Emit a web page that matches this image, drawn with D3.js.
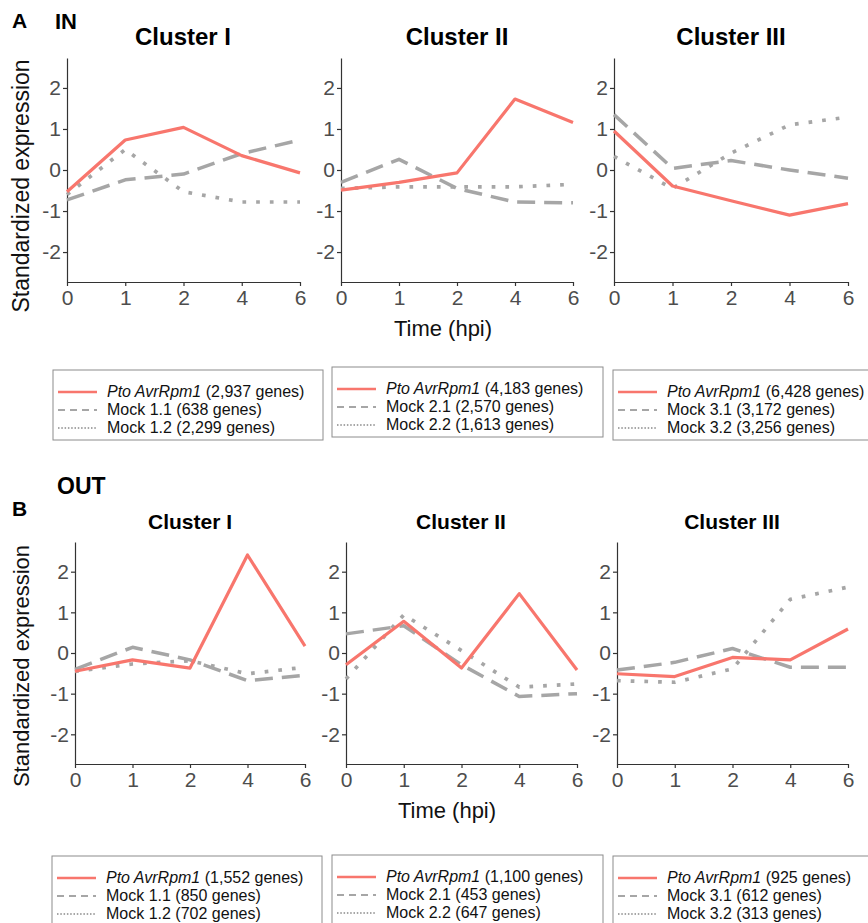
<!DOCTYPE html>
<html lang="en">
<head>
<meta charset="UTF-8">
<title>IN / OUT cluster expression</title>
<script src="https://d3js.org/d3.v7.min.js"></script>
<style>
    body { margin: 0; background: #fff; }
    svg { display: block; font-family: Arial, "Liberation Sans", sans-serif; }
    .axis path, .axis line { stroke: #333; stroke-width: 1.2; }
    .axis text { fill: #4d4d4d; font-size: 21px; font-family: Arial, "Liberation Sans", sans-serif; }
    .legend-box { fill: #fff; stroke: #8c8c8c; stroke-width: 1; }
    .legend-text { font-size: 16px; fill: #111; }
</style>
</head>
<body>
<svg id="chart" width="868" height="923"></svg>
<script>
// time points (hpi) and cluster names
const times = ["0", "1", "2", "4", "6"];
const clusterNames = ["Cluster I", "Cluster II", "Cluster III"];
const yTicks = [-2, -1, 0, 1, 2];

// IN: Pto AvrRpm1, Mock x.1 (dashed), Mock x.2 (dotted)
const inPto = [
    [-0.53, 0.73, 1.04, 0.35, -0.07],
    [-0.49, -0.30, -0.07, 1.73, 1.16],
    [0.95, -0.39, -0.75, -1.10, -0.82]
];
const inMock1 = [
    [-0.73, -0.24, -0.10, 0.40, 0.73],
    [-0.30, 0.26, -0.45, -0.78, -0.80],
    [1.35, 0.04, 0.23, 0.00, -0.20]
];
const inMock2 = [
    [-0.60, 0.50, -0.53, -0.78, -0.78],
    [-0.45, -0.41, -0.41, -0.41, -0.35],
    [0.33, -0.45, 0.41, 1.10, 1.29]
];

// OUT
const outPto = [
    [-0.45, -0.17, -0.37, 2.41, 0.17],
    [-0.29, 0.78, -0.37, 1.46, -0.42],
    [-0.51, -0.58, -0.11, -0.17, 0.59]
];
const outMock1 = [
    [-0.40, 0.14, -0.17, -0.68, -0.55],
    [0.47, 0.67, -0.29, -1.07, -1.00],
    [-0.42, -0.23, 0.11, -0.35, -0.35]
];
const outMock2 = [
    [-0.45, -0.27, -0.19, -0.51, -0.35],
    [-0.64, 0.94, 0.06, -0.84, -0.76],
    [-0.68, -0.72, -0.39, 1.32, 1.62]
];

// gene counts for the legends
const inPtoGenes = ["2,937", "4,183", "6,428"];
const inMock1Genes = ["638", "2,570", "3,172"];
const inMock2Genes = ["2,299", "1,613", "3,256"];
const outPtoGenes = ["1,552", "1,100", "925"];
const outMock1Genes = ["850", "453", "612"];
const outMock2Genes = ["702", "647", "313"];

const svg = d3.select("#chart");
const red = "#F8766D", grey = "#A6A6A6";

const styles = [
    { color: red, width: 3.2, dash: null, legendDash: null, legendWidth: 2.6 },
    { color: grey, width: 3.5, dash: "18,9", legendDash: "7,5", legendWidth: 2.2 },
    { color: grey, width: 3.7, dash: "3.7,10", legendDash: "1.5,1.8", legendWidth: 1.8 }
];

const rows = [
    {
        letter: "A", letterY: 28, letterSize: 21, tag: "IN", tagX: 55, tagY: 29, tagSize: 22,
        titleY: 45, titleSize: 24, titleX: [183, 457, 731],
        panels: [[67, 300], [341, 573], [614, 848]], top: 58, bottom: 282,
        yTitleY: 186, yTitleSize: 23, xTitleX: 443, xTitleY: 336,
        legendTop: [370, 367, 370], legendX: [53, 332, 613], legendW: [270, 271, 262],
        series: [inPto, inMock1, inMock2],
        genes: [inPtoGenes, inMock1Genes, inMock2Genes]
    },
    {
        letter: "B", letterY: 516, letterSize: 21, tag: "OUT", tagX: 57, tagY: 494, tagSize: 23,
        titleY: 529, titleSize: 21, titleX: [190, 461, 732],
        panels: [[75, 305], [346, 577], [617, 848]], top: 542, bottom: 764,
        yTitleY: 666, yTitleSize: 22, xTitleX: 447, xTitleY: 818,
        legendTop: [856, 855, 856], legendX: [52, 332, 613], legendW: [270, 271, 262],
        series: [outPto, outMock1, outMock2],
        genes: [outPtoGenes, outMock1Genes, outMock2Genes]
    }
];

rows.forEach(row => {
    // panel letter and group tag
    svg.append("text").attr("x", 12).attr("y", row.letterY)
        .style("font-size", row.letterSize + "px").style("font-weight", "bold").text(row.letter);
    svg.append("text").attr("x", row.tagX).attr("y", row.tagY)
        .style("font-size", row.tagSize + "px").style("font-weight", "bold").text(row.tag);

    // y axis title
    svg.append("text")
        .attr("transform", `translate(29,${row.yTitleY}) rotate(-90)`)
        .attr("text-anchor", "middle")
        .style("font-size", row.yTitleSize + "px").style("fill", "#111")
        .text("Standardized expression");

    // x axis title
    svg.append("text").attr("x", row.xTitleX).attr("y", row.xTitleY)
        .attr("text-anchor", "middle").style("font-size", "22px").style("fill", "#111")
        .text("Time (hpi)");

    let y = d3.scaleLinear().domain([-2.73, 2.73]).range([row.bottom, row.top]);

    row.panels.forEach((range, c) => {
        let x = d3.scalePoint().domain(times).range(range).padding(0);

        svg.append("text").attr("x", row.titleX[c]).attr("y", row.titleY)
            .attr("text-anchor", "middle")
            .style("font-size", row.titleSize + "px").style("font-weight", "bold")
            .text(clusterNames[c]);

        svg.append("g").attr("class", "axis")
            .attr("transform", `translate(${range[0]},0)`)
            .call(d3.axisLeft(y).tickValues(yTicks).tickSize(4).tickSizeOuter(0)
                .tickPadding(2).tickFormat(d => String(d)));

        svg.append("g").attr("class", "axis")
            .attr("transform", `translate(0,${row.bottom})`)
            .call(d3.axisBottom(x).tickSize(4).tickSizeOuter(0).tickPadding(4));

        let line = d3.line().x((d, i) => x(times[i])).y(d => y(d));

        // draw dotted first, red on top
        [2, 1, 0].forEach(s => {
            svg.append("path")
                .datum(row.series[s][c])
                .attr("d", line)
                .attr("fill", "none")
                .attr("stroke", styles[s].color)
                .attr("stroke-width", styles[s].width)
                .attr("stroke-dasharray", styles[s].dash)
                .attr("stroke-linejoin", "round");
        });

        // legend
        let lx = row.legendX[c], ly = row.legendTop[c];
        svg.append("rect").attr("class", "legend-box")
            .attr("x", lx).attr("y", ly).attr("width", row.legendW[c]).attr("height", 70);

        const mockNames = [`Mock ${c + 1}.1`, `Mock ${c + 1}.2`];
        [0, 1, 2].forEach(s => {
            let base = ly + 27 + s * 18;
            svg.append("line")
                .attr("x1", lx + 5).attr("x2", lx + 44)
                .attr("y1", base - 5).attr("y2", base - 5)
                .attr("stroke", styles[s].color)
                .attr("stroke-width", styles[s].legendWidth)
                .attr("stroke-dasharray", styles[s].legendDash);
            let t = svg.append("text").attr("class", "legend-text")
                .attr("x", lx + 54).attr("y", base);
            if (s === 0) {
                t.append("tspan").style("font-style", "italic").text("Pto AvrRpm1");
                t.append("tspan").text(` (${row.genes[0][c]} genes)`);
            } else {
                t.text(`${mockNames[s - 1]} (${row.genes[s][c]} genes)`);
            }
        });
    });
});
</script>
</body>
</html>
